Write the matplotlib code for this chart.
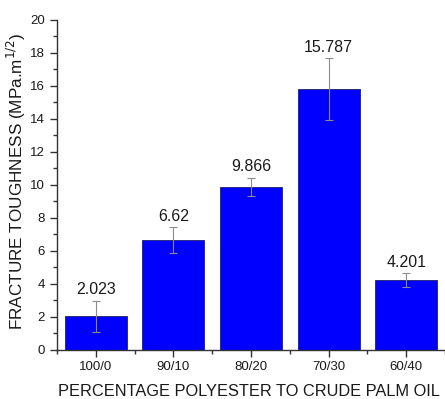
import matplotlib
matplotlib.use("Agg")
import matplotlib.pyplot as plt
from matplotlib.ticker import MultipleLocator

plt.rcParams['font.family'] = ['Liberation Sans', 'DejaVu Sans']

ratios = ["100/0", "90/10", "80/20", "70/30", "60/40"]
toughness = [2.023, 6.62, 9.866, 15.787, 4.201]
errors = [0.94, 0.79, 0.55, 1.86, 0.42]

fig = plt.figure(figsize=(4.45, 3.99), dpi=100)
ax = fig.add_axes([0.128, 0.124, 0.872, 0.827])

x = list(range(len(ratios)))
ax.bar(x, toughness, width=0.8, color='#0000ff', edgecolor='#20206a', linewidth=0.6, zorder=2)
ax.errorbar(x, toughness, yerr=errors, fmt='none', ecolor='#8c8c8c', elinewidth=0.8,
            capsize=3, capthick=0.8, zorder=3)

for xi, v, e in zip(x, toughness, errors):
    ax.annotate(f"{v:g}", (xi, v + e), xytext=(0, 2.5), textcoords='offset points',
                ha='center', va='bottom', fontsize=11.5, color='#1a1a1a')

ax.set_xlim(-0.5, 4.5)
ax.set_ylim(0, 20)
ax.set_xticks(x)
ax.set_xticklabels(ratios)
ax.yaxis.set_major_locator(MultipleLocator(2))
ax.yaxis.set_minor_locator(MultipleLocator(1))
ax.xaxis.set_minor_locator(MultipleLocator(0.5))

for side in ('top', 'right'):
    ax.spines[side].set_visible(False)
for side in ('left', 'bottom'):
    ax.spines[side].set_color('#333333')
    ax.spines[side].set_linewidth(1.0)

ax.tick_params(axis='both', which='major', direction='out', length=5, width=1,
               colors='#333333', labelsize=9.5, labelcolor='#1a1a1a')
ax.tick_params(axis='both', which='minor', direction='out', length=3, width=1, colors='#333333')

ax.set_ylabel("FRACTURE TOUGHNESS (MPa.m$^{1/2}$)", fontsize=12.3, color='#1a1a1a')
ax.set_xlabel("PERCENTAGE POLYESTER TO CRUDE PALM OIL", fontsize=11.8, color='#1a1a1a')
ax.yaxis.set_label_coords(-0.074, 0.51)
ax.xaxis.set_label_coords(0.496, -0.105)

fig.savefig("out.png", dpi=100)
